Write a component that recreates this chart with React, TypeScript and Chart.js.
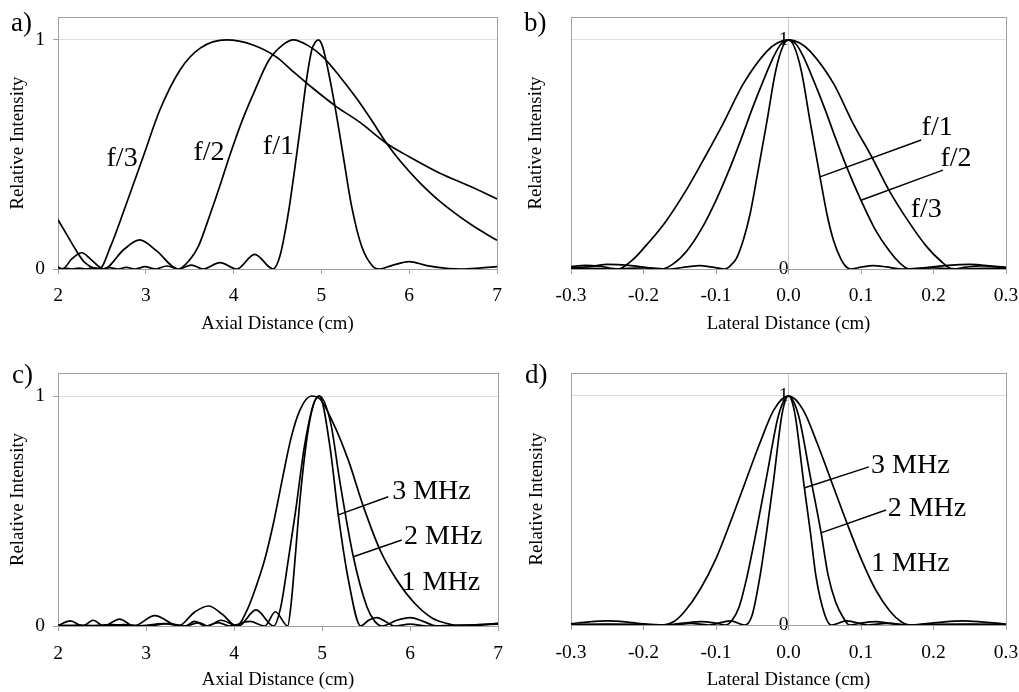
import React, { useEffect, useRef } from "react";
import { Chart, registerables } from "chart.js";

Chart.register(...registerables);

// ---------------- data ----------------
const axialTicks = [2, 3, 4, 5, 6, 7];
const lateralTicks = [-0.3, -0.2, -0.1, 0, 0.1, 0.2, 0.3];
const intensityTicks = [0, 1];

// Panel a: axial profiles for f/1, f/2, f/3
const aF1X = [2.0, 2.08, 2.16, 2.24, 2.32, 2.41, 2.5, 2.59, 2.68, 2.78, 2.88, 2.99, 3.11, 3.24, 3.37, 3.52, 3.655, 3.845, 4.035, 4.24, 4.45, 4.53, 4.62, 4.69, 4.756, 4.83, 4.89, 4.93, 4.965, 5.01, 5.06, 5.155, 5.25, 5.345, 5.46, 5.59, 5.66, 5.8, 6.0, 6.2, 6.45, 6.6, 6.8, 7.0];
const aF1Y = [0, 0.003, 0, 0.004, 0, 0.005, 0, 0.006, 0, 0.007, 0, 0.01, 0, 0.013, 0, 0.017, 0, 0.028, 0, 0.064, 0, 0.06, 0.236, 0.42, 0.607, 0.825, 0.956, 0.99, 1.0, 0.975, 0.898, 0.709, 0.49, 0.272, 0.097, 0.01, 0, 0.015, 0.032, 0.015, 0.002, 0, 0.004, 0.01];
const aF2X = [2.0, 2.05, 2.16, 2.27, 2.38, 2.52, 2.75, 2.93, 3.12, 3.37, 3.5, 3.6, 3.73, 3.85, 3.96, 4.1, 4.22, 4.4, 4.55, 4.68, 4.85, 5.02, 5.2, 5.4, 5.57, 5.74, 5.9, 6.1, 6.35, 6.7, 7.0];
const aF2Y = [0.01, 0, 0.045, 0.071, 0.04, 0, 0.085, 0.127, 0.08, 0, 0.04, 0.1, 0.236, 0.37, 0.5, 0.65, 0.76, 0.91, 0.975, 1.0, 0.975, 0.925, 0.845, 0.745, 0.65, 0.55, 0.47, 0.385, 0.295, 0.195, 0.125];
const aF3X = [2.0, 2.1, 2.2, 2.3, 2.47, 2.6, 2.74, 2.97, 3.16, 3.39, 3.62, 3.92, 4.22, 4.49, 4.64, 4.9, 5.17, 5.44, 5.74, 6.0, 6.35, 6.7, 7.0];
const aF3Y = [0.215, 0.15, 0.085, 0.03, 0, 0.1, 0.243, 0.49, 0.694, 0.869, 0.964, 1.0, 0.978, 0.925, 0.875, 0.79, 0.709, 0.64, 0.549, 0.49, 0.418, 0.36, 0.306];
const aLabels = ["f/3", "f/2", "f/1"];
const aLabelX = [2.73, 3.72, 4.51];
const aLabelY = [0.48, 0.507, 0.533];

// Panel b: lateral profiles for f/1, f/2, f/3
const bF1X = [-0.3, -0.27, -0.24, -0.2, -0.166, -0.14, -0.1225, -0.105, -0.088, -0.08, -0.072, -0.062, -0.053, -0.0434, -0.03, -0.018, -0.008, 0, 0.008, 0.018, 0.03, 0.0434, 0.053, 0.0616, 0.072, 0.078, 0.085, 0.1, 0.1166, 0.135, 0.155, 0.18, 0.2, 0.22, 0.24, 0.27, 0.3];
const bF1Y = [0.004, 0.003, 0, 0.005, 0, 0.009, 0.015, 0.008, 0, 0.015, 0.045, 0.13, 0.24, 0.403, 0.64, 0.86, 0.97, 1.0, 0.97, 0.86, 0.64, 0.403, 0.24, 0.13, 0.045, 0.015, 0, 0.008, 0.015, 0.009, 0, 0.003, 0.005, 0.002, 0, 0.003, 0.004];
const bF2X = [-0.3, -0.27, -0.25, -0.22, -0.195, -0.175, -0.16, -0.14, -0.12, -0.1, -0.08, -0.065, -0.05, -0.035, -0.02, -0.01, 0, 0.01, 0.02, 0.035, 0.05, 0.065, 0.08, 0.1, 0.12, 0.14, 0.154, 0.166, 0.19, 0.22, 0.25, 0.28, 0.3];
const bF2Y = [0.004, 0.012, 0.02, 0.016, 0.006, 0, 0.02, 0.08, 0.175, 0.3, 0.447, 0.57, 0.7, 0.82, 0.93, 0.983, 1.0, 0.983, 0.93, 0.82, 0.7, 0.57, 0.447, 0.3, 0.17, 0.075, 0.025, 0, 0.006, 0.016, 0.02, 0.012, 0.004];
const bF3X = [-0.3, -0.28, -0.26, -0.235, -0.215, -0.2, -0.171, -0.14, -0.115, -0.09, -0.062, -0.03, -0.015, 0, 0.015, 0.03, 0.062, 0.089, 0.1147, 0.1377, 0.165, 0.19, 0.21, 0.226, 0.245, 0.265, 0.285, 0.3];
const bF3Y = [0.01, 0.016, 0.012, 0, 0.04, 0.09, 0.2, 0.35, 0.49, 0.636, 0.81, 0.95, 0.988, 1.0, 0.988, 0.95, 0.81, 0.636, 0.49, 0.349, 0.21, 0.1, 0.035, 0, 0.008, 0.014, 0.012, 0.008];
const bLabels = ["f/1", "f/2", "f/3"];
const bLabelX = [0.205, 0.231, 0.19];
const bLabelY = [0.616, 0.48, 0.258];
const bLeaderX1 = [0.0434, 0.1];
const bLeaderY1 = [0.402, 0.3];
const bLeaderX2 = [0.183, 0.213];
const bLeaderY2 = [0.563, 0.432];

// Panel c: axial profiles for 1, 2, 3 MHz
const cM1X = [2.0, 2.14, 2.28, 2.4, 2.52, 2.7, 2.86, 3.1, 3.37, 3.55, 3.71, 3.87, 4.03, 4.15, 4.25, 4.35, 4.45, 4.55, 4.65, 4.75, 4.88, 4.97, 5.13, 5.3, 5.47, 5.66, 5.85, 6.05, 6.25, 6.45, 6.55, 6.8, 7.0];
const cM1Y = [0.002, 0.022, 0, 0.025, 0, 0.03, 0, 0.045, 0, 0.06, 0.087, 0.05, 0, 0.07, 0.17, 0.29, 0.45, 0.64, 0.82, 0.94, 1.0, 0.99, 0.88, 0.72, 0.52, 0.33, 0.2, 0.1, 0.035, 0.008, 0, 0.004, 0.012];
const cM2X = [2.0, 2.3, 2.6, 2.9, 3.2, 3.45, 3.6, 3.7, 3.85, 4.05, 4.25, 4.45, 4.53, 4.617, 4.7, 4.8, 4.9, 4.97, 5.1, 5.2, 5.356, 5.51, 5.6, 5.68, 5.85, 6.0, 6.15, 6.3, 6.6, 7.0];
const cM2Y = [0.003, 0, 0.006, 0, 0.01, 0, 0.015, 0, 0.025, 0, 0.07, 0, 0.08, 0.287, 0.5, 0.78, 0.96, 1.0, 0.88, 0.635, 0.301, 0.084, 0.02, 0, 0.025, 0.036, 0.02, 0, 0.003, 0.01];
const cM3X = [2.0, 2.25, 2.5, 2.75, 3.0, 3.25, 3.45, 3.55, 3.68, 3.82, 3.95, 4.18, 4.35, 4.47, 4.61, 4.65, 4.693, 4.75, 4.83, 4.9, 4.97, 5.09, 5.185, 5.3, 5.44, 5.53, 5.62, 5.72, 5.82, 6.0, 6.2, 6.5, 7.0];
const cM3Y = [0, 0.004, 0, 0.006, 0, 0.01, 0, 0.02, 0, 0.015, 0, 0.02, 0, 0.062, 0, 0.1, 0.287, 0.55, 0.82, 0.96, 1.0, 0.78, 0.483, 0.2, 0, 0.025, 0.036, 0.02, 0, 0.008, 0, 0.003, 0.008];
const cLabels = ["3 MHz", "2 MHz", "1 MHz"];
const cLabelX = [6.244, 6.378, 6.35];
const cLabelY = [0.583, 0.388, 0.187];
const cLeaderX1 = [5.185, 5.356];
const cLeaderY1 = [0.483, 0.301];
const cLeaderX2 = [5.753, 5.906];
const cLeaderY2 = [0.562, 0.374];

// Panel d: lateral profiles for 1, 2, 3 MHz
const dM1X = [-0.3, -0.275, -0.25, -0.225, -0.2, -0.173, -0.158, -0.143, -0.122, -0.1, -0.08, -0.06, -0.04, -0.02, 0, 0.02, 0.04, 0.06, 0.08, 0.1, 0.12, 0.14, 0.155, 0.167, 0.19, 0.215, 0.24, 0.265, 0.29, 0.3];
const dM1Y = [0.006, 0.014, 0.018, 0.014, 0.005, 0, 0.015, 0.06, 0.155, 0.29, 0.45, 0.62, 0.79, 0.94, 1.0, 0.94, 0.79, 0.62, 0.45, 0.29, 0.155, 0.06, 0.015, 0, 0.006, 0.014, 0.018, 0.014, 0.007, 0.004];
const dM2X = [-0.3, -0.25, -0.2, -0.17, -0.145, -0.12, -0.1, -0.087, -0.078, -0.068, -0.058, -0.045, -0.03, -0.015, -0.007, 0, 0.007, 0.015, 0.03, 0.045, 0.0545, 0.065, 0.075, 0.084, 0.1, 0.12, 0.14, 0.165, 0.2, 0.25, 0.3];
const dM2Y = [0.002, 0.004, 0.002, 0, 0.008, 0.015, 0.008, 0, 0.02, 0.08, 0.2, 0.4, 0.65, 0.9, 0.975, 1.0, 0.975, 0.9, 0.65, 0.402, 0.22, 0.1, 0.035, 0, 0.008, 0.015, 0.008, 0, 0.003, 0.004, 0.002];
const dM3X = [-0.3, -0.25, -0.2, -0.16, -0.135, -0.11, -0.08, -0.06, -0.05, -0.04, -0.03, -0.021, -0.01, -0.005, 0, 0.005, 0.01, 0.021, 0.03, 0.038, 0.05, 0.059, 0.08, 0.11, 0.135, 0.16, 0.2, 0.25, 0.3];
const dM3Y = [0.001, 0.002, 0.001, 0, 0.007, 0, 0.018, 0, 0.045, 0.2, 0.41, 0.62, 0.9, 0.975, 1.0, 0.975, 0.9, 0.62, 0.41, 0.21, 0.045, 0, 0.018, 0, 0.007, 0, 0.001, 0.002, 0.001];
const dLabels = ["3 MHz", "2 MHz", "1 MHz"];
const dLabelX = [0.168, 0.191, 0.168];
const dLabelY = [0.694, 0.507, 0.266];
const dLeaderX1 = [0.0214, 0.0448];
const dLeaderY1 = [0.598, 0.402];
const dLeaderX2 = [0.111, 0.1345];
const dLeaderY2 = [0.69, 0.502];

// ---------------- styling ----------------
const SERIF = '"Liberation Serif", "Times New Roman", Times, serif';
const tickFont = { family: SERIF, size: 19.5 };
const titleFont = { family: SERIF, size: 18.8 };
const FRAME = "#a0a0a0";
const GRID = "#dedede";

const panels: any[] = [
  {
    key: "a", left: 0, top: 0, width: 509, height: 346,
    area: { left: 58, top: 17, right: 497, bottom: 269 },
    kind: "axial", yTitlePad: 6.7, xTitlePad: 10.7, xTickPad: 10,
    series: [[aF1X, aF1Y], [aF2X, aF2Y], [aF3X, aF3Y]],
    labels: aLabels, labelX: aLabelX, labelY: aLabelY,
    lx1: [], ly1: [], lx2: [], ly2: [],
    panelLabel: "a)", plx: 11, ply: 31,
  },
  {
    key: "b", left: 509, top: 0, width: 510, height: 346,
    area: { left: 62, top: 17, right: 497, bottom: 269 },
    kind: "lateral", yTitlePad: 16.2, xTitlePad: 10.7, xTickPad: 10,
    series: [[bF1X, bF1Y], [bF2X, bF2Y], [bF3X, bF3Y]],
    labels: bLabels, labelX: bLabelX, labelY: bLabelY,
    lx1: bLeaderX1, ly1: bLeaderY1, lx2: bLeaderX2, ly2: bLeaderY2,
    panelLabel: "b)", plx: 15, ply: 31,
  },
  {
    key: "c", left: 0, top: 346, width: 509, height: 346,
    area: { left: 58, top: 27, right: 498, bottom: 280 },
    kind: "axial", yTitlePad: 7.2, xTitlePad: 0.8, xTickPad: 11,
    series: [[cM1X, cM1Y], [cM2X, cM2Y], [cM3X, cM3Y]],
    labels: cLabels, labelX: cLabelX, labelY: cLabelY,
    lx1: cLeaderX1, ly1: cLeaderY1, lx2: cLeaderX2, ly2: cLeaderY2,
    panelLabel: "c)", plx: 12, ply: 37,
  },
  {
    key: "d", left: 509, top: 346, width: 510, height: 346,
    area: { left: 62, top: 27, right: 497, bottom: 279 },
    kind: "lateral", yTitlePad: 16.6, xTitlePad: 0.8, xTickPad: 11,
    series: [[dM1X, dM1Y], [dM2X, dM2Y], [dM3X, dM3Y]],
    labels: dLabels, labelX: dLabelX, labelY: dLabelY,
    lx1: dLeaderX1, ly1: dLeaderY1, lx2: dLeaderX2, ly2: dLeaderY2,
    panelLabel: "d)", plx: 16, ply: 37,
  },
];

function decorPlugin(spec: any) {
  return {
    id: "decor_" + spec.key,
    beforeDatasetsDraw(chart: any) {
      const { ctx, chartArea: a } = chart;
      ctx.save();
      ctx.strokeStyle = FRAME;
      ctx.lineWidth = 1;
      ctx.strokeRect(
        Math.round(a.left) + 0.5,
        Math.round(a.top) + 0.5,
        Math.round(a.right - a.left),
        Math.round(a.bottom - a.top)
      );
      ctx.restore();
    },
    afterDatasetsDraw(chart: any) {
      const { ctx } = chart;
      const xs = chart.scales.x;
      const ys = chart.scales.y;
      ctx.save();
      ctx.strokeStyle = "#000";
      ctx.fillStyle = "#000";
      ctx.lineWidth = 1.4;
      for (let i = 0; i < spec.lx1.length; i++) {
        ctx.beginPath();
        ctx.moveTo(xs.getPixelForValue(spec.lx1[i]), ys.getPixelForValue(spec.ly1[i]));
        ctx.lineTo(xs.getPixelForValue(spec.lx2[i]), ys.getPixelForValue(spec.ly2[i]));
        ctx.stroke();
      }
      ctx.font = `28px ${SERIF}`;
      ctx.textAlign = "center";
      ctx.textBaseline = "middle";
      for (let i = 0; i < spec.labels.length; i++) {
        ctx.fillText(
          spec.labels[i],
          xs.getPixelForValue(spec.labelX[i]),
          ys.getPixelForValue(spec.labelY[i])
        );
      }
      ctx.font = `27px ${SERIF}`;
      ctx.textAlign = "left";
      ctx.textBaseline = "alphabetic";
      ctx.fillText(spec.panelLabel, spec.plx, spec.ply);
      ctx.restore();
    },
  };
}

function buildConfig(spec: any): any {
  const lateral = spec.kind === "lateral";
  const xTicks = lateral ? lateralTicks : axialTicks;
  const datasets = spec.series.map((s: any) => ({
    data: s[0].map((x: number, i: number) => ({ x, y: s[1][i] })),
    borderColor: "#000",
    borderWidth: 1.7,
    pointRadius: 0,
    fill: false,
    cubicInterpolationMode: "monotone",
    xAxisID: "x",
    yAxisID: "y",
  }));

  const yTitle = {
    display: true,
    text: "Relative Intensity",
    font: titleFont,
    color: "#000",
    padding: { top: spec.yTitlePad, bottom: 0 },
  };

  const zeroPad = (s: any) => {
    s.paddingTop = 0;
    s.paddingBottom = 0;
    s.paddingLeft = 0;
    s.paddingRight = 0;
  };

  const scales: any = {
    x: {
      type: "linear",
      min: lateral ? -0.3 : 2,
      max: lateral ? 0.3 : 7,
      afterBuildTicks: (s: any) => {
        s.ticks = xTicks.map((v) => ({ value: v }));
      },
      ticks: {
        font: tickFont,
        color: "#000",
        padding: spec.xTickPad,
        maxRotation: 0,
        autoSkip: false,
        callback: (v: any) => (lateral ? Number(v).toFixed(1) : String(v)),
      },
      grid: { drawOnChartArea: false, drawTicks: true, tickLength: 5, color: FRAME },
      border: { display: true, color: FRAME },
      title: {
        display: true,
        text: lateral ? "Lateral Distance (cm)" : "Axial Distance (cm)",
        font: titleFont,
        color: "#000",
        padding: { top: 0, bottom: spec.xTitlePad },
      },
      afterFit: (s: any) => {
        s.height = spec.height - spec.area.bottom;
        zeroPad(s);
      },
    },
  };

  if (lateral) {
    scales.y = {
      type: "linear",
      position: { x: 0 },
      min: 0,
      max: 1.1,
      afterBuildTicks: (s: any) => {
        s.ticks = intensityTicks.map((v) => ({ value: v }));
      },
      ticks: { font: tickFont, color: "#000", padding: 11, callback: (v: any) => String(v) },
      grid: { color: GRID, drawTicks: false },
      border: { display: true, color: "#c8c8c8" },
      afterFit: (s: any) => zeroPad(s),
    };
    scales.yt = {
      type: "linear",
      position: "left",
      min: 0,
      max: 1,
      ticks: { display: false },
      grid: { display: false },
      border: { display: false },
      title: yTitle,
      afterFit: (s: any) => {
        s.width = spec.area.left;
        zeroPad(s);
      },
    };
  } else {
    scales.y = {
      type: "linear",
      position: "left",
      min: 0,
      max: 1.1,
      afterBuildTicks: (s: any) => {
        s.ticks = intensityTicks.map((v) => ({ value: v }));
      },
      ticks: { font: tickFont, color: "#000", padding: 8, callback: (v: any) => String(v) },
      grid: { color: GRID, tickColor: FRAME, tickLength: 5, drawTicks: true },
      border: { display: true, color: FRAME },
      title: yTitle,
      afterFit: (s: any) => {
        s.width = spec.area.left;
        zeroPad(s);
      },
    };
  }

  return {
    type: "line",
    data: { datasets },
    options: {
      responsive: false,
      maintainAspectRatio: false,
      animation: false,
      devicePixelRatio: 1,
      layout: {
        padding: {
          left: 0,
          top: spec.area.top,
          right: spec.width - spec.area.right,
          bottom: 0,
        },
      },
      plugins: {
        legend: { display: false },
        tooltip: { enabled: false },
        title: { display: false },
      },
      scales,
    },
    plugins: [decorPlugin(spec)],
  };
}

function Panel({ spec }: { spec: any }) {
  const ref = useRef<HTMLCanvasElement | null>(null);
  useEffect(() => {
    if (!ref.current) return;
    const chart = new Chart(ref.current, buildConfig(spec));
    return () => chart.destroy();
  }, [spec]);
  return (
    <canvas
      ref={ref}
      width={spec.width}
      height={spec.height}
      style={{
        position: "absolute",
        left: spec.left,
        top: spec.top,
        width: spec.width,
        height: spec.height,
        display: "block",
      }}
    />
  );
}

export default function App() {
  return (
    <div
      style={{
        position: "absolute",
        left: 0,
        top: 0,
        width: 1019,
        height: 692,
        background: "#fff",
        overflow: "hidden",
      }}
    >
      {panels.map((p) => (
        <Panel key={p.key} spec={p} />
      ))}
    </div>
  );
}
